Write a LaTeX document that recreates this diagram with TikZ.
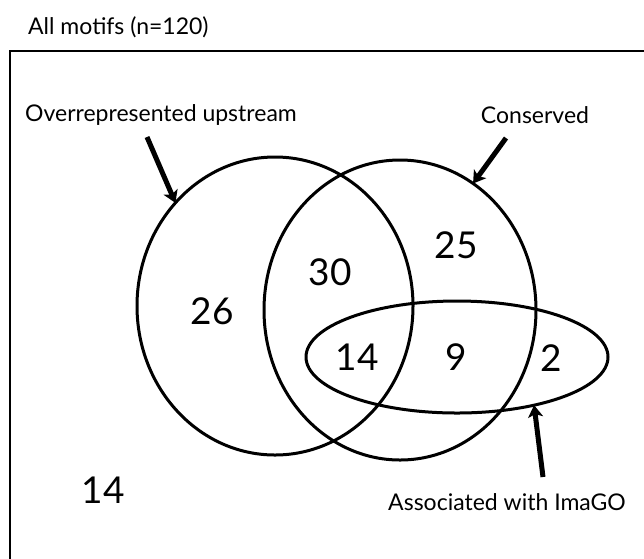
\documentclass[tikz,border=0pt]{standalone}
\usepackage{fontspec}
\setmainfont{Lato}
\usetikzlibrary{shapes.geometric,arrows.meta}
\begin{document}
\begin{tikzpicture}[x=1pt,y=-1pt,
    setshape/.style={ellipse,draw,line width=3pt,inner sep=0pt,outer sep=0pt},
    settext/.style={font=\fontsize{23}{27}\selectfont},
    tally/.style={font=\fontsize{37}{44}\selectfont},
    pointer/.style={line width=5pt,-{Stealth[length=12pt,width=15pt,inset=3pt]}}]
  \useasboundingbox (0,0) rectangle (644,558);

  % Draw frame
  \draw[line width=2pt] (650,51) -- (10,51) -- (10,565);
  \node[settext,anchor=west,inner sep=0pt] (title) at (28,27) {All motifs (n=120)};

  % Draw sets
  \node[setshape,minimum width=276pt,minimum height=298pt] (over) at (275,306) {};
  \node[setshape,minimum width=272pt,minimum height=300pt] (cons) at (400,310) {};
  \node[setshape,minimum width=302pt,minimum height=112pt] (imago) at (457,357) {};

  % Set names and pointers
  \node[settext] (overname) at (161,115) {Overrepresented upstream};
  \node[settext] (consname) at (535,115) {Conserved};
  \node[settext] (imagoname) at (507,502) {Associated with ImaGO};
  \coordinate (overtail) at (147,137);
  \coordinate (constail) at (506,138);
  \coordinate (imagotail) at (543,477);
  \draw[pointer] (overtail) -- (over.134);
  \draw[pointer] (constail) -- (cons.60);
  \draw[pointer] (imagotail) -- (imago.-32);

  % Counts
  \node[tally] (n26) at (212,311) {26};
  \node[tally] (n30) at (330,272) {30};
  \node[tally] (n25) at (456,245) {25};
  \node[tally] (n14a) at (357,357) {14};
  \node[tally] (n9) at (456,357) {9};
  \node[tally] (n2) at (551,358) {2};
  \node[tally] (n14b) at (103,490) {14};
\end{tikzpicture}
\end{document}
